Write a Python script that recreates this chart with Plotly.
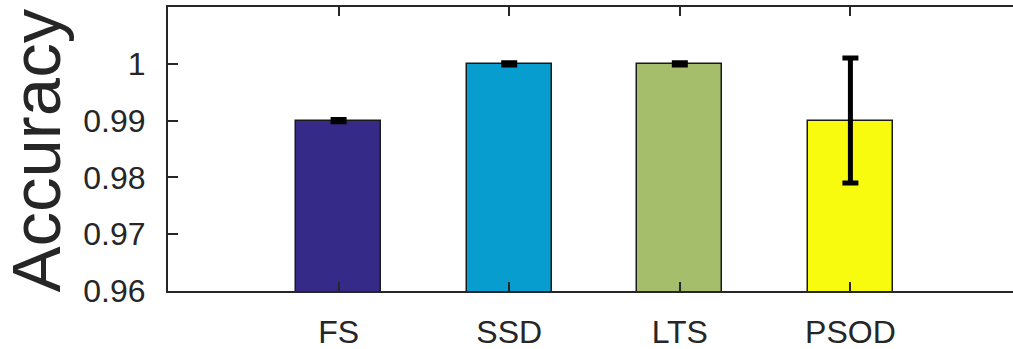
import plotly.graph_objects as go

categories = ["FS", "SSD", "LTS", "PSOD"]
positions = [1, 2, 3, 4]
accuracy = [0.990, 1.000, 1.000, 0.990]
error = [0.0002, 0.0002, 0.0002, 0.011]
colors = ["#352a87", "#079dcf", "#a5be6b", "#f9fb0e"]
y_ticks = [0.96, 0.97, 0.98, 0.99, 1.0]
y_tick_text = ["0.96", "0.97", "0.98", "0.99", "1"]

FONT = "Liberation Sans, Arial, Helvetica, sans-serif"
AX = "#262626"

fig = go.Figure()
fig.add_trace(go.Bar(
    x=positions, y=accuracy, width=0.5,
    marker=dict(color=colors, line=dict(color="#1a1a1a", width=1.5)),
    error_y=dict(type="data", array=error, visible=True,
                 color="black", thickness=5, width=8),
    showlegend=False,
))

fig.update_layout(
    width=1013, height=349,
    margin=dict(l=168, r=0, t=7, b=58),
    plot_bgcolor="white", paper_bgcolor="white",
    font=dict(family=FONT, color=AX, size=32),
    bargap=0,
)
fig.update_xaxes(
    range=[0, 4.953], tickvals=positions, ticktext=categories,
    showline=True, linecolor=AX, linewidth=2, mirror="ticks",
    ticks="inside", ticklen=9, tickwidth=1.5, tickcolor=AX,
    showgrid=False, zeroline=False,
    tickfont=dict(size=32, family=FONT, color=AX),
    ticklabelstandoff=12,
)
fig.update_yaxes(
    range=[0.96, 1.01], tickvals=y_ticks, ticktext=y_tick_text,
    showline=True, linecolor=AX, linewidth=2,
    ticks="inside", ticklen=10, tickwidth=1.5, tickcolor=AX,
    showgrid=False, zeroline=False,
    tickfont=dict(size=32, family=FONT, color=AX),
    ticklabelstandoff=14,
)
fig.add_annotation(
    text="Accuracy", textangle=-90, showarrow=False,
    xref="paper", yref="paper", x=-0.156, y=0.495,
    xanchor="center", yanchor="middle",
    font=dict(size=69, family=FONT, color=AX),
)

fig.write_html("out.html")
